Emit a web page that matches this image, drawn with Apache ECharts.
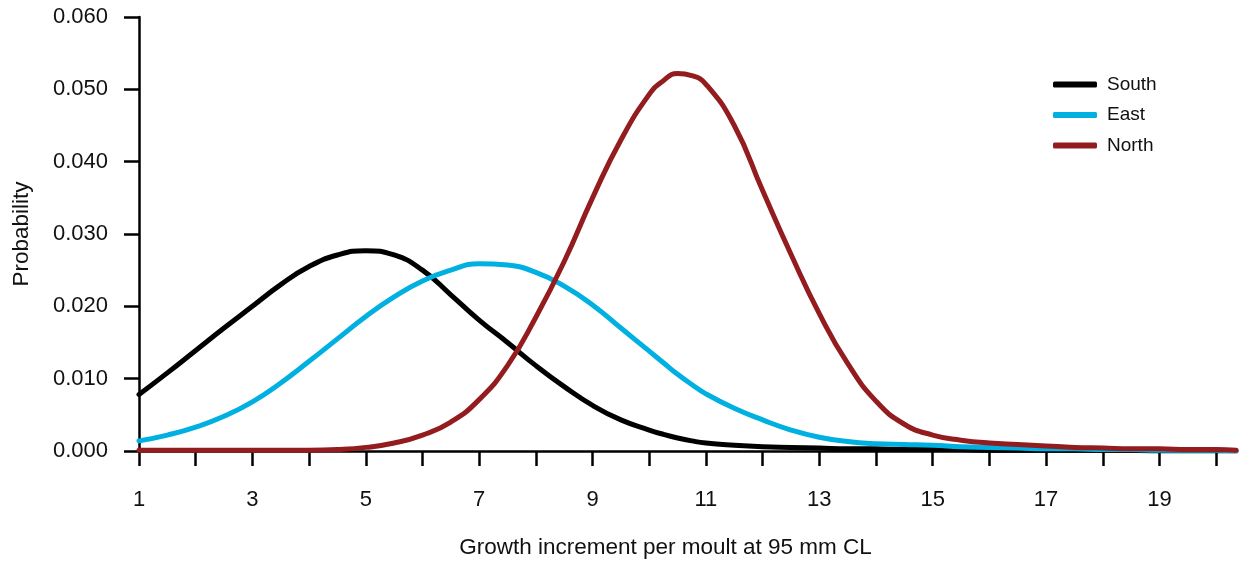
<!DOCTYPE html>
<html>
<head>
<meta charset="utf-8">
<script src="https://cdn.jsdelivr.net/npm/echarts@6/dist/echarts.min.js"></script>
<style>
html,body{margin:0;padding:0;background:#fff;}
#chart{width:1240px;height:564px;}
</style>
</head>
<body>
<div id="chart"></div>
<script>
const xs = [1,1.5,2,2.5,3,3.5,4,4.5,5,5.5,6,6.5,7,7.5,8,8.5,9,9.5,10,10.25,10.5,10.75,11,11.5,12,12.5,13,13.5,14,14.5,15,15.5,16,16.5,17,17.5,18,18.5,19,19.5,20,20.35];
const south = [0.0078,0.0108,0.0139,0.0170,0.0200,0.0230,0.0255,0.0271,0.0277,0.0271,0.0250,0.0216,0.0181,0.0150,0.0118,0.0089,0.0063,0.0043,0.0029,0.0023,0.0018,0.0014,0.0011,0.0008,0.0006,0.0005,0.0004,0.0003,0.0003,0.0002,0.0002,0.0002,0.0001,0.0001,0.0001,0.0001,0.0001,0.0001,0.0000,0.0000,0.0000,0.0000];
const east = [0.0014,0.0022,0.0033,0.0048,0.0068,0.0094,0.0124,0.0155,0.0186,0.0213,0.0235,0.0250,0.0259,0.0257,0.0247,0.0228,0.0202,0.0170,0.0138,0.0122,0.0106,0.0092,0.0079,0.0059,0.0043,0.0029,0.0019,0.0013,0.0010,0.0009,0.0008,0.0006,0.0005,0.0004,0.0003,0.0003,0.0002,0.0002,0.0001,0.0001,0.0001,0.0000];
const north = [0.0001,0.0001,0.0001,0.0001,0.0001,0.0001,0.0001,0.0002,0.0005,0.0011,0.0022,0.0040,0.0071,0.0118,0.0185,0.0262,0.0350,0.0430,0.0493,0.0512,0.0522,0.0519,0.0507,0.0450,0.0360,0.0272,0.0190,0.0121,0.0069,0.0037,0.0022,0.0015,0.0011,0.0009,0.0007,0.0005,0.0004,0.0003,0.0003,0.0002,0.0002,0.0001];
const seriesNames = ['South','East','North'];
const xTicks = [1,2,3,4,5,6,7,8,9,10,11,12,13,14,15,16,17,18,19,20];
const xTickLabels = [1,3,5,7,9,11,13,15,17,19];
const yTickLabels = ['0.000','0.010','0.020','0.030','0.040','0.050','0.060'];

const colors = ['#000000','#00B0E0','#931C1F'];
const font = 'Liberation Sans, Arial, Helvetica, sans-serif';
const pairs = ys => xs.map((x,i) => [x, ys[i]]);
const chart = echarts.init(document.getElementById('chart'), null, {renderer:'canvas'});
chart.setOption({
  animation: false,
  backgroundColor: '#fff',
  textStyle: {fontFamily: font},
  grid: {left:139, right:4, top:17, bottom:110, containLabel:false},
  legend: {
    orient: 'vertical', left: 1053, top: 75, padding: 0,
    icon: 'roundRect', itemWidth: 44, itemHeight: 6, itemGap: 11.5,
    textStyle: {fontSize: 19, color: '#111', fontFamily: font, padding: [0,0,0,5]},
    data: seriesNames
  },
  xAxis: {
    type: 'value', min: 1, max: 20.35,
    name: 'Growth increment per moult at 95 mm CL',
    nameLocation: 'middle', nameGap: 85,
    nameTextStyle: {fontSize: 22.5, color: '#111', fontFamily: font, padding: [0, 44, 0, 0]},
    axisLine: {show: true, onZero: false, lineStyle: {color: '#000', width: 2.5}},
    axisTick: {show: true, length: 15, lineStyle: {color: '#000', width: 2.5}, customValues: xTicks},
    axisLabel: {fontSize: 22, color: '#111', margin: 38, fontFamily: font, customValues: xTickLabels},
    splitLine: {show: false}
  },
  yAxis: {
    type: 'value', min: 0, max: 0.06, interval: 0.01,
    name: 'Probability', nameLocation: 'middle', nameGap: 106,
    nameTextStyle: {fontSize: 22.5, color: '#111', fontFamily: font},
    axisLine: {show: true, lineStyle: {color: '#000', width: 2.5}},
    axisTick: {show: true, length: 15, lineStyle: {color: '#000', width: 2.5}},
    axisLabel: {fontSize: 22, color: '#111', margin: 31, fontFamily: font,
      formatter: v => yTickLabels[Math.round(v / 0.01)]},
    splitLine: {show: false}
  },
  series: [south, east, north].map((d, i) => ({
    name: seriesNames[i], type: 'line', data: pairs(d),
    smooth: 0.5, showSymbol: false, symbol: 'none',
    lineStyle: {color: colors[i], width: 5, cap: 'round', join: 'round'},
    itemStyle: {color: colors[i]}
  }))
});
</script>
</body>
</html>
